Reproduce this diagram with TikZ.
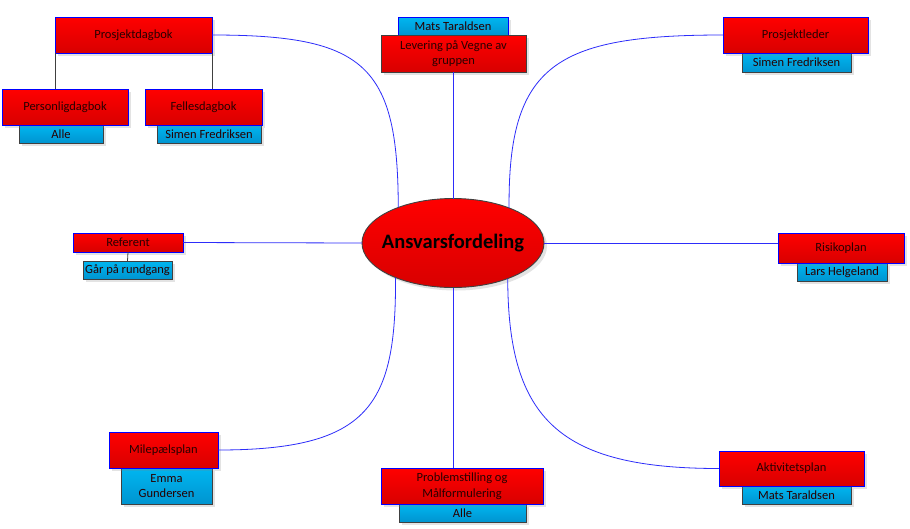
\documentclass[tikz,border=0pt]{standalone}
\usepackage{fontspec}
\setmainfont{Carlito}
\usetikzlibrary{shapes.geometric,shadows}
\definecolor{redT}{RGB}{255,0,0}
\definecolor{redB}{RGB}{216,0,0}
\definecolor{cyT}{RGB}{0,182,240}
\definecolor{cyB}{RGB}{0,148,208}
\definecolor{bordBlue}{RGB}{0,0,255}
\definecolor{bordGray}{RGB}{64,64,64}
\definecolor{lineBlue}{RGB}{45,45,250}
\definecolor{txt}{RGB}{40,0,0}
\tikzset{
  box/.style={rectangle, inner sep=0pt, outer sep=0pt, align=center, text=txt,
    font=\fontsize{12.5}{15.5}\selectfont, line width=0.9pt,
    drop shadow={opacity=0.22, shadow xshift=3pt, shadow yshift=-3pt, fill=gray}},
  sz/.style 2 args={minimum width=#1pt, minimum height=#2pt},
  redbox/.style={box, draw=bordBlue, top color=redT, bottom color=redB},
  cyanbox/.style={box, draw=bordGray, top color=cyT, bottom color=cyB},
  conn/.style={draw=lineBlue, line width=0.8pt},
  tie/.style={draw=bordGray, line width=0.8pt},
}
\begin{document}
\begin{tikzpicture}[x=1pt,y=-1pt]
\useasboundingbox[fill=white] (0,0) rectangle (910,528);

% central ellipse
\node[ellipse, inner sep=0pt, outer sep=0pt, minimum width=182pt, minimum height=89pt,
  draw=bordGray, line width=0.9pt, top color=redT, bottom color=redB,
  drop shadow={opacity=0.22, shadow xshift=3pt, shadow yshift=-3pt, fill=gray}] (el) at (453,243) {};
\node[font=\fontsize{20.5}{24}\selectfont\bfseries, text=black, inner sep=0pt] (elt) at (el.center) {Ansvarsfordeling};

% cyan (responsible) boxes
\node[cyanbox, sz={84}{18}] (alle1) at (61,134) {Alle};
\node[cyanbox, sz={104}{18}] (sim1) at (209,134) {Simen Fredriksen};
\node[cyanbox, draw=bordBlue, sz={110}{19}] (mt1) at (453,26.5) {Mats Taraldsen};
\node[cyanbox, sz={89}{18}] (gar) at (127.5,270) {Går på rundgang};
\node[cyanbox, sz={91}{36}] (emma) at (166.5,486) {Emma\\Gundersen};
\node[cyanbox, sz={127}{18}] (alle2) at (462.5,513) {Alle};
\node[cyanbox, sz={109}{19}] (sim2) at (796.5,62.5) {Simen Fredriksen};
\node[cyanbox, sz={90}{18}] (lars) at (842,272) {Lars Helgeland};
\node[cyanbox, sz={109}{18}] (mt2) at (796.5,495) {Mats Taraldsen};

% red (task) boxes
\node[redbox, sz={157}{36}] (pd) at (133.5,35) {Prosjektdagbok};
\node[redbox, sz={126}{36}] (pers) at (65,107) {Personligdagbok};
\node[redbox, sz={117}{36}] (fel) at (203.5,107) {Fellesdagbok};
\node[redbox, draw=bordGray, sz={145}{37}] (lev) at (453.5,53.5) {Levering på Vegne av\\gruppen};
\node[redbox, sz={110}{19}] (ref) at (128,242.5) {Referent};
\node[redbox, sz={109}{36}] (mil) at (163.5,450) {Milepælsplan};
\node[redbox, sz={162}{36}] (prob) at (462,486) {Problemstilling og\\Målformulering};
\node[redbox, sz={145}{36}] (pl) at (795.5,35) {Prosjektleder};
\node[redbox, sz={126}{30}] (rp) at (841,248) {Risikoplan};
\node[redbox, sz={145}{35}] (ak) at (791.5,468.5) {Aktivitetsplan};

% grey ties
\draw[tie] (pd.south west) -- (pd.south west |- pers.north);
\draw[tie] (pd.south east) -- (pd.south east |- fel.north);
\draw[tie] (ref.south) -- (gar.north);

% blue connectors
\draw[conn] (pd.east) .. controls (365,35) and (398,65) .. (el.147.7);
\draw[conn] (pl.west) .. controls (555,35) and (508,65) .. (el.32.3);
\draw[conn] (mil.east) .. controls (370,450) and (396,405) .. (el.211);
\draw[conn] (ak.west) .. controls (560,468.5) and (508,420) .. (el.327.7);
\draw[conn] (el.north) -- (el.north |- lev.south);
\draw[conn] (el.south) -- (el.south |- prob.north);
\draw[conn] (ref.east) -- (el.west);
\draw[conn] (el.east) -- (el.east -| rp.west);
\end{tikzpicture}
\end{document}
